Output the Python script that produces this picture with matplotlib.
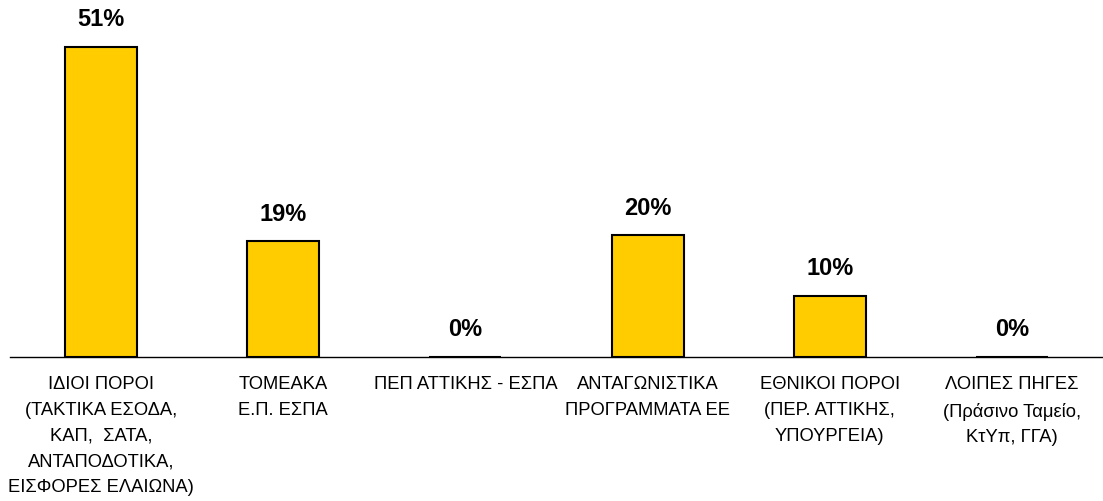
import matplotlib.pyplot as plt

categories = [
    'ΙΔΙΟΙ ΠΟΡΟΙ\n(ΤΑΚΤΙΚΑ ΕΣΟΔΑ,\nΚΑΠ,  ΣΑΤΑ,\nΑΝΤΑΠΟΔΟΤΙΚΑ,\nΕΙΣΦΟΡΕΣ ΕΛΑΙΩΝΑ)',
    'ΤΟΜΕΑΚΑ\nΕ.Π. ΕΣΠΑ',
    'ΠΕΠ ΑΤΤΙΚΗΣ - ΕΣΠΑ',
    'ΑΝΤΑΓΩΝΙΣΤΙΚΑ\nΠΡΟΓΡΑΜΜΑΤΑ ΕΕ',
    'ΕΘΝΙΚΟΙ ΠΟΡΟΙ\n(ΠΕΡ. ΑΤΤΙΚΗΣ,\nΥΠΟΥΡΓΕΙΑ)',
    'ΛΟΙΠΕΣ ΠΗΓΕΣ\n(Πράσινο Ταμείο,\nΚτΥπ, ΓΓΑ)',
]
values = [0.51, 0.19, 0.0, 0.20, 0.10, 0.0]
value_labels = ['51%', '19%', '0%', '20%', '10%', '0%']

plt.rcParams['font.family'] = ['Liberation Sans Narrow', 'Liberation Sans', 'DejaVu Sans']

W, H = 1103, 502
fig = plt.figure(figsize=(W / 100, H / 100), dpi=100)
# axes placed in pixels: x from 10 to 1103, baseline at y=358
ax = fig.add_axes([10 / W, (H - 358) / H, 1093 / W, 353 / H])

x = list(range(len(categories)))
ax.bar(x, values, width=0.395, color='#FFCC00', edgecolor='black', linewidth=1.5, zorder=3)

ax.set_xlim(-0.5, len(categories) - 0.5)
ax.set_ylim(0, 0.58)

for xi, v, lab in zip(x, values, value_labels):
    ax.annotate(lab, (xi, v), xytext=(0, 12), textcoords='offset points',
                ha='center', va='bottom', fontsize=17, fontweight='bold')

ax.set_xticks(x)
ax.set_xticklabels(categories, fontsize=13.2, va='top', ha='center', linespacing=1.68)
ax.tick_params(axis='x', length=0, pad=13)
ax.set_yticks([])
for s in ['top', 'right', 'left']:
    ax.spines[s].set_visible(False)
ax.spines['bottom'].set_linewidth(1.0)
ax.spines['bottom'].set_color('black')

fig.savefig('out.png', dpi=100)
